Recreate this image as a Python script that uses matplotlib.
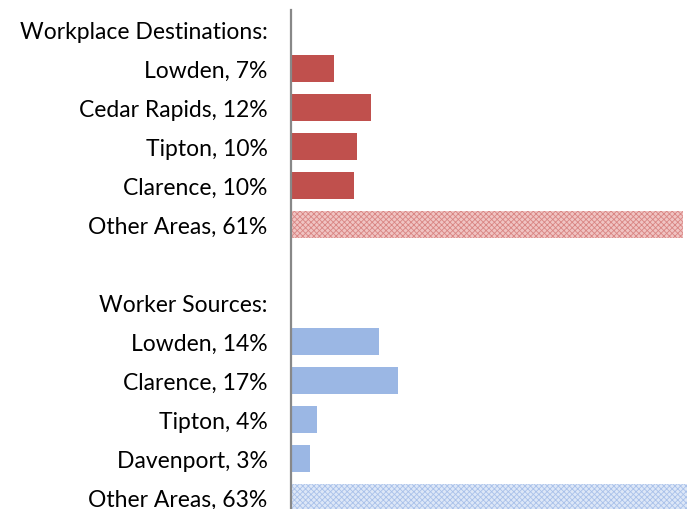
import matplotlib
matplotlib.use("Agg")
import matplotlib.pyplot as plt

# rows top to bottom; header and spacer rows carry no bar
labels = ["Workplace Destinations:", "Lowden, 7%", "Cedar Rapids, 12%", "Tipton, 10%",
          "Clarence, 10%", "Other Areas, 61%", "",
          "Worker Sources:", "Lowden, 14%", "Clarence, 17%", "Tipton, 4%",
          "Davenport, 3%", "Other Areas, 63%"]
dest_vals = [6.7, 12.4, 10.2, 9.8, 60.8]
source_vals = [13.6, 16.6, 4.0, 2.9, 63.0]

red = "#c0504d"
blue = "#9bb7e4"

plt.rcParams["font.family"] = ["Lato", "DejaVu Sans"]
plt.rcParams["hatch.linewidth"] = 0.6

fig = plt.figure(figsize=(6.87, 5.10), dpi=100)
ax = fig.add_axes([291 / 687, 0.0, 1 - 291 / 687, 499 / 510])

h = 0.67
for i, v in enumerate(dest_vals):
    y = 1 + i
    if i == len(dest_vals) - 1:
        ax.barh(y, v, height=h, color="#f0c4c3", edgecolor="#d98583", hatch="xxxxxx", linewidth=0)
    else:
        ax.barh(y, v, height=h, color=red, linewidth=0)
for i, v in enumerate(source_vals):
    y = 8 + i
    if i == len(source_vals) - 1:
        ax.barh(y, v, height=h, color="#dde7f7", edgecolor="#a9c1ea", hatch="xxxxxx", linewidth=0)
    else:
        ax.barh(y, v, height=h, color=blue, linewidth=0)

ax.set_xlim(0, 61.4)
ax.set_ylim(12.295, -0.5)
ax.set_yticks(range(len(labels)))
ax.set_yticklabels(labels, fontsize=16.5)
ax.tick_params(axis="y", length=0, pad=17)
ax.set_xticks([])
for s in ["top", "right", "bottom"]:
    ax.spines[s].set_visible(False)
ax.spines["left"].set_color("#888888")
ax.spines["left"].set_linewidth(1.6)

fig.savefig("out.png", dpi=100)
